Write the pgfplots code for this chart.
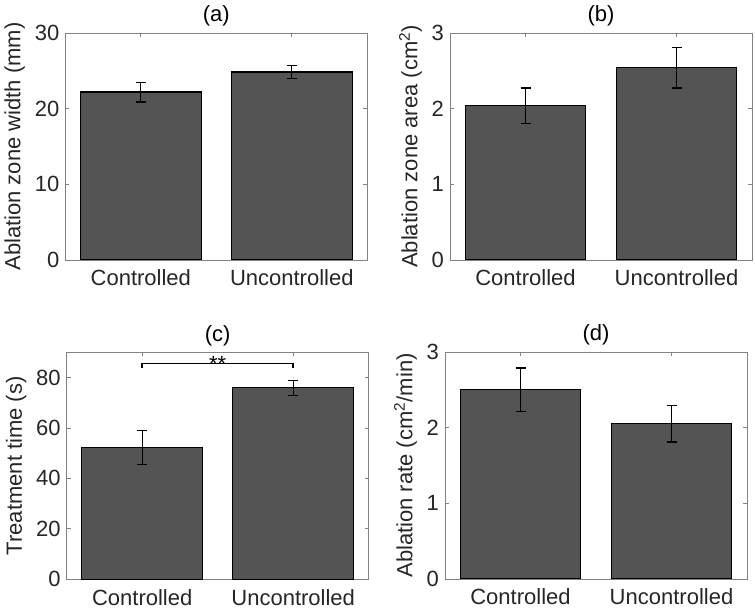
\documentclass[border=0pt]{standalone}
\usepackage{fontspec}
\setmainfont{Liberation Sans}
\usepackage{pgfplots}
\pgfplotsset{compat=1.18}
\definecolor{barfill}{RGB}{84,84,84}
\definecolor{axgray}{RGB}{130,130,130}
\definecolor{txt}{RGB}{38,38,38}
\newcommand{\fs}{\fontsize{22}{25}\selectfont}
\pgfplotsset{
  panel/.style={
    scale only axis,
    anchor=south west,
    width=302pt, height=227pt,
    xmin=0.5, xmax=2.5,
    xtick={1,2}, xticklabels={Controlled,Uncontrolled},
    ymin=0,
    axis line style={axgray, line width=0.8pt},
    tick style={axgray, line width=0.8pt},
    tick align=inside,
    major tick length=4pt,
    /pgf/number format/assume math mode=true,
    ticklabel style={font=\fs, text=txt},
    xticklabel style={yshift=-6.5pt},
    yticklabel style={xshift=-2.5pt},
    label style={font=\fs, text=txt},
    title style={font=\fs, text=black, yshift=-3pt},
    ylabel style={yshift=3pt},
  },
  bars/.style={
    ybar, bar width=0.8, fill=barfill, draw=black, line width=1.1pt,
    error bars/.cd, y dir=both, y explicit,
    error bar style={black, line width=1.3pt},
    error mark options={rotate=90, mark size=5pt, line width=1.3pt, black},
  },
}
\begin{document}
\begin{tikzpicture}
\path[use as bounding box] (0,0) rectangle (755pt,613pt);
% (a)
\begin{axis}[panel, at={(65.3pt,353pt)}, ymax=30, ytick={0,10,20,30},
  title={(a)}, ylabel={Ablation zone width (mm)}]
\addplot[bars] coordinates {(1,22.2) +- (0,1.3) (2,24.85) +- (0,0.85)};
\end{axis}
% (b)
\begin{axis}[panel, at={(450pt,353pt)}, ymax=3, ytick={0,1,2,3},
  title={(b)}, ylabel={Ablation zone area (cm\textsuperscript{2})}]
\addplot[bars] coordinates {(1,2.04) +- (0,0.235) (2,2.54) +- (0,0.265)};
\end{axis}
% (c)
\begin{axis}[panel, at={(66.7pt,33.7pt)}, ymax=90, ytick={0,20,40,60,80},
  title={(c)}, ylabel={Treatment time (s)}]
\addplot[bars] coordinates {(1,52.3) +- (0,6.8) (2,75.9) +- (0,3.0)};
\addplot[black, line width=1.6pt, mark=none] coordinates {(1,83.8) (1,85.5) (2,85.5) (2,83.8)};
\node[font=\fs, text=black, anchor=south, inner sep=0pt] at (axis cs:1.5,82.3) {**};
\end{axis}
% (d)
\begin{axis}[panel, at={(445pt,34pt)}, ymax=3, ytick={0,1,2,3},
  title={(d)}, ylabel={Ablation rate (cm\textsuperscript{2}/min)}]
\addplot[bars] coordinates {(1,2.50) +- (0,0.29) (2,2.05) +- (0,0.24)};
\end{axis}
\end{tikzpicture}
\end{document}
